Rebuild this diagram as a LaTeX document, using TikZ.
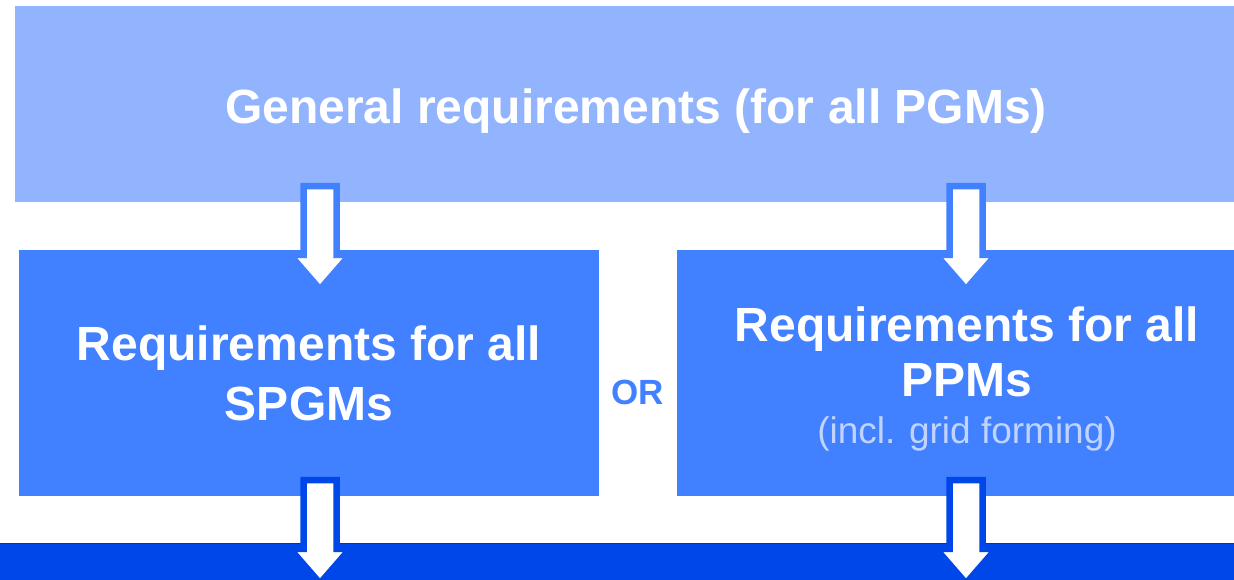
\documentclass[tikz,border=0pt]{standalone}
\usepackage{fontspec}
\setmainfont{Liberation Sans}
\usetikzlibrary{calc}
\definecolor{pgmlight}{HTML}{92B4FE}
\definecolor{pgmmid}{HTML}{4180FF}
\definecolor{pgmdark}{HTML}{0047E9}
\definecolor{pgmnote}{HTML}{C0D4FF}
\tikzset{
  reqbox/.style={fill=#1, inner sep=0pt},
  reqtext/.style={text=white, align=center, font=\fontsize{48}{60}\selectfont\bfseries},
  blockarrow/.style={draw=#1, fill=white, line width=6.5pt, line join=miter}
}
% block arrow: x position, from node, to node, outline colour
\newcommand{\blockarr}[4]{%
  \draw[blockarrow=#4] let \p1=(#2.south), \p2=(#3.north) in
    (#1pt-16.5pt,\y1+16pt) -- (#1pt+16.5pt,\y1+16pt) -- (#1pt+16.5pt,\y2-5pt)
    -- (#1pt+30pt,\y2-5pt) -- (#1pt,\y2-39.5pt) -- (#1pt-30pt,\y2-5pt)
    -- (#1pt-16.5pt,\y2-5pt) -- cycle;}
\begin{document}
\begin{tikzpicture}[x=1pt,y=-1pt]
  \useasboundingbox (0,0) rectangle (1234,579);
  \clip (0,0) rectangle (1234,579);
  % boxes
  \node[reqbox=pgmlight, minimum width=1242, minimum height=196] (general) at (636,104) {};
  \node[reqbox=pgmmid, minimum width=580, minimum height=246] (spgm) at (309,373) {};
  \node[reqbox=pgmmid, minimum width=580, minimum height=246] (ppm) at (967,373) {};
  \node[reqbox=pgmdark, minimum width=1240, minimum height=76] (band) at (617,582) {};
  \draw[pgmdark!75!black, line width=1.2pt] (band.north west) -- (band.north east);
  % texts
  \node[reqtext] (generaltxt) at ($(general.center)+(0,7)$) {General requirements (for all PGMs)};
  \node[reqtext] (spgmtxt) at (spgm.center) {Requirements for all\\SPGMs};
  \node[reqtext, font=\fontsize{48}{55}\selectfont\bfseries] (ppmtxt) at ($(ppm.center)+(0,6)$)
    {Requirements for all\\PPMs\\[-8pt]{\fontsize{37}{44}\selectfont\mdseries\color{pgmnote}(incl. grid forming)}};
  \node[text=pgmmid, font=\fontsize{35}{42}\selectfont\bfseries] (or) at (638,392) {OR};
  % arrows
  \blockarr{320}{general}{spgm}{pgmmid}
  \blockarr{966}{general}{ppm}{pgmmid}
  \blockarr{320}{spgm}{band}{pgmdark}
  \blockarr{966}{ppm}{band}{pgmdark}
\end{tikzpicture}
\end{document}
